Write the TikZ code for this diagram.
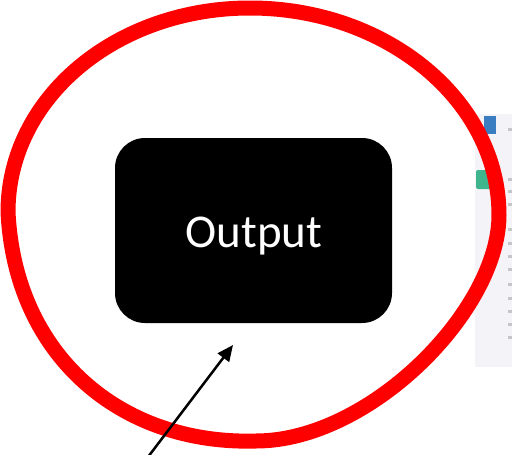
\documentclass[tikz,border=0pt]{standalone}
\usepackage{fontspec}
\setmainfont{Carlito}
\usetikzlibrary{arrows.meta}
\definecolor{loopred}{HTML}{FF0000}
\definecolor{panelgrey}{HTML}{F4F4F8}
\definecolor{iconblue}{HTML}{3A7DC0}
\definecolor{icongreen}{HTML}{3FB58E}
\tikzset{
  outbox/.style={fill=black, rounded corners=30pt, minimum width=277pt, minimum height=185pt, inner sep=0pt},
  outtext/.style={text=white, inner sep=0pt, font=\fontsize{47}{56}\selectfont},
  redloop/.style={draw=loopred, line width=15pt, line join=round},
  pointer/.style={draw=black, line width=2.5pt, -{Triangle[length=16pt,width=14pt]}},
  panel/.style={fill=panelgrey, draw=none}
}
\begin{document}
\begin{tikzpicture}[x=1pt,y=-1pt]
\useasboundingbox (0,0) rectangle (512,455);
\fill[white] (0,0) rectangle (512,455);
% screenshot fragment on the right edge
\path[panel] (475,114) rectangle (512,367);
\fill[iconblue] (484,116) rectangle (496,134);
\fill[icongreen, rounded corners=2pt] (476,170) rectangle (491,189);
\foreach \yy in {128,178,190,203,228,242,255,268,283,297,310,323,336}
  \fill[gray!45] (508,\yy) rectangle (512,\yy+3);
% red hand-drawn loop
\draw[redloop] (250,8)
  .. controls (387,8) and (499,101) .. (499,215)
  .. controls (499,310) and (370,441) .. (256,441)
  .. controls (120,445) and (15,355) .. (8,212)
  .. controls (8,98) and (116,8) .. cycle;
% output box
\node[outbox] (out) at (253.5,230.5) {};
\node[outtext, anchor=base] (outlabel) at (254,247) {Output};
% arrow
\coordinate (tail) at (148,457);
\coordinate (tip) at (233,345);
\draw[pointer] (tail) -- (tip);
\end{tikzpicture}
\end{document}
